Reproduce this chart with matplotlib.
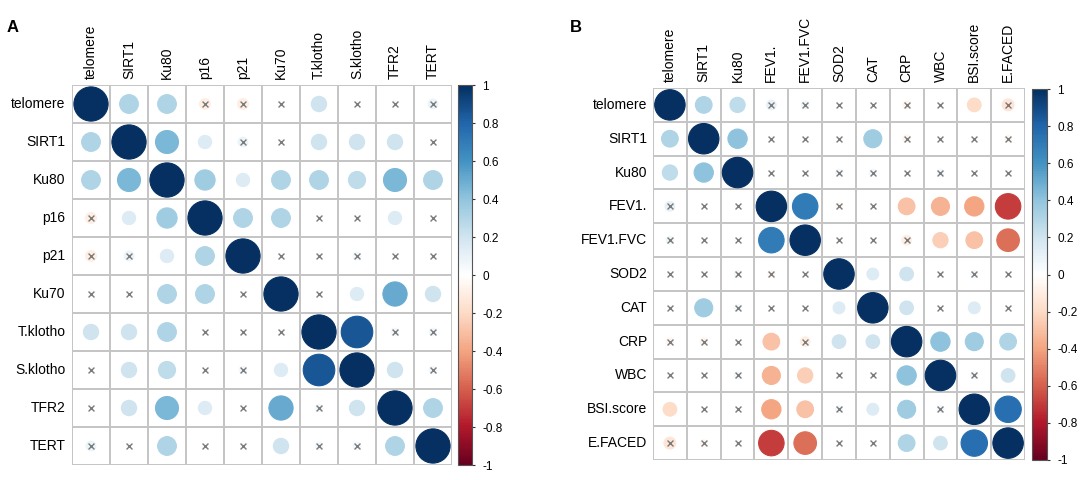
import numpy as np
import matplotlib
matplotlib.use("Agg")
import matplotlib.pyplot as plt
from matplotlib.patches import Circle
from matplotlib.colors import LinearSegmentedColormap, Normalize
from matplotlib.colorbar import ColorbarBase

plt.rcParams['font.family'] = ['Liberation Sans', 'DejaVu Sans']

# ---- panel A data ----
labels_A = ["telomere", "SIRT1", "Ku80", "p16", "p21", "Ku70",
            "T.klotho", "S.klotho", "TFR2", "TERT"]
corr_A = [
    [1.00, 0.30, 0.30, -0.10, -0.10, 0.02, 0.20, 0.02, 0.02, 0.08],
    [0.30, 1.00, 0.45, 0.15, 0.08, 0.02, 0.20, 0.20, 0.20, 0.02],
    [0.30, 0.45, 1.00, 0.35, 0.15, 0.30, 0.30, 0.25, 0.45, 0.30],
    [-0.10, 0.15, 0.35, 1.00, 0.30, 0.30, 0.02, 0.02, 0.15, 0.02],
    [-0.10, 0.08, 0.15, 0.30, 1.00, 0.02, 0.02, 0.05, 0.02, 0.02],
    [0.02, 0.02, 0.30, 0.30, 0.02, 1.00, 0.02, 0.15, 0.50, 0.20],
    [0.20, 0.20, 0.30, 0.02, 0.02, 0.02, 1.00, 0.85, 0.05, 0.05],
    [0.02, 0.20, 0.25, 0.02, 0.05, 0.15, 0.85, 1.00, 0.20, 0.05],
    [0.02, 0.20, 0.45, 0.15, 0.02, 0.50, 0.05, 0.20, 1.00, 0.30],
    [0.08, 0.02, 0.30, 0.02, 0.02, 0.20, 0.05, 0.05, 0.30, 1.00],
]
insig_A = [
    [0, 0, 0, 1, 1, 1, 0, 1, 1, 1],
    [0, 0, 0, 0, 1, 1, 0, 0, 0, 1],
    [0, 0, 0, 0, 0, 0, 0, 0, 0, 0],
    [1, 0, 0, 0, 0, 0, 1, 1, 0, 1],
    [1, 1, 0, 0, 0, 1, 1, 1, 1, 1],
    [1, 1, 0, 0, 1, 0, 1, 0, 0, 0],
    [0, 0, 0, 1, 1, 1, 0, 0, 1, 1],
    [1, 0, 0, 1, 1, 0, 0, 0, 0, 1],
    [1, 0, 0, 0, 1, 0, 1, 0, 0, 0],
    [1, 1, 0, 1, 1, 0, 1, 1, 0, 0],
]

# ---- panel B data ----
labels_B = ["telomere", "SIRT1", "Ku80", "FEV1.", "FEV1.FVC", "SOD2",
            "CAT", "CRP", "WBC", "BSI.score", "E.FACED"]
corr_B = [
    [1.00, 0.30, 0.25, 0.10, 0.06, 0.02, 0.02, -0.06, 0.02, -0.20, -0.15],
    [0.30, 1.00, 0.40, 0.02, 0.02, 0.02, 0.35, -0.06, 0.02, 0.02, -0.05],
    [0.25, 0.40, 1.00, 0.02, 0.02, 0.05, 0.05, 0.02, 0.05, 0.02, 0.02],
    [0.10, 0.02, 0.02, 1.00, 0.70, -0.05, 0.02, -0.30, -0.35, -0.40, -0.70],
    [0.06, 0.02, 0.02, 0.70, 1.00, 0.02, 0.02, -0.10, -0.25, -0.30, -0.55],
    [0.02, 0.02, 0.05, -0.05, 0.02, 1.00, 0.15, 0.20, 0.02, 0.05, 0.02],
    [0.02, 0.35, 0.05, 0.02, 0.02, 0.15, 1.00, 0.20, 0.02, 0.15, 0.02],
    [-0.06, -0.06, 0.02, -0.30, -0.10, 0.20, 0.20, 1.00, 0.40, 0.35, 0.30],
    [0.02, 0.02, 0.05, -0.35, -0.25, 0.02, 0.02, 0.40, 1.00, 0.05, 0.20],
    [-0.20, 0.02, 0.02, -0.40, -0.30, 0.05, 0.15, 0.35, 0.05, 1.00, 0.75],
    [-0.15, -0.05, 0.02, -0.70, -0.55, 0.02, 0.02, 0.30, 0.20, 0.75, 1.00],
]
insig_B = [
    [0, 0, 0, 1, 1, 1, 1, 1, 1, 0, 1],
    [0, 0, 0, 1, 1, 1, 0, 1, 1, 1, 1],
    [0, 0, 0, 1, 1, 1, 1, 1, 1, 1, 1],
    [1, 1, 1, 0, 0, 1, 1, 0, 0, 0, 0],
    [1, 1, 1, 0, 0, 1, 1, 1, 0, 0, 0],
    [1, 1, 1, 1, 1, 0, 0, 0, 1, 1, 1],
    [1, 0, 1, 1, 1, 0, 0, 0, 1, 0, 1],
    [1, 1, 1, 0, 1, 0, 0, 0, 0, 0, 0],
    [1, 1, 1, 0, 0, 1, 1, 0, 0, 1, 0],
    [0, 1, 1, 0, 0, 1, 0, 0, 1, 0, 0],
    [1, 1, 1, 0, 0, 1, 1, 0, 0, 0, 0],
]

cbar_ticks = [1, 0.8, 0.6, 0.4, 0.2, 0, -0.2, -0.4, -0.6, -0.8, -1]

# corrplot default palette
cmap = LinearSegmentedColormap.from_list("corr", [
    "#67001F", "#B2182B", "#D6604D", "#F4A582", "#FDDBC7", "#FFFFFF",
    "#D1E5F0", "#92C5DE", "#4393C3", "#2166AC", "#053061"], N=200)
norm = Normalize(-1, 1)

W, H = 1084, 480
fig = plt.figure(figsize=(W / 100, H / 100), dpi=100, facecolor="white")


def px_axes(x0, y0, w, h):
    # pixel box (top-left origin) -> figure axes
    return fig.add_axes([x0 / W, (H - y0 - h) / H, w / W, h / H])


def corr_panel(box, cbox, labels, corr, insig, letter, letter_xy, lab_gap):
    corr = np.array(corr)
    insig = np.array(insig)
    n = len(labels)
    ax = px_axes(*box)
    ax.set_xlim(0, n)
    ax.set_ylim(n, 0)
    ax.axis("off")
    for k in range(n + 1):
        ax.plot([0, n], [k, k], color="#c4c4c4", lw=1.4, zorder=1,
                solid_capstyle="butt")
        ax.plot([k, k], [0, n], color="#c4c4c4", lw=1.4, zorder=1,
                solid_capstyle="butt")
    for i in range(n):
        for j in range(n):
            r = corr[i, j]
            c = cmap(norm(r))
            rad = np.sqrt(abs(r)) * 0.45
            ax.add_patch(Circle((j + 0.5, i + 0.5), rad, facecolor=c,
                                edgecolor=c, lw=0.8, zorder=2))
    yy, xx = np.nonzero(insig)
    ax.scatter(xx + 0.5, yy + 0.5, marker="x", s=18, color="#7a7a7a",
               linewidths=1.0, zorder=3)
    for k, lab in enumerate(labels):
        ax.text(-lab_gap, k + 0.5, lab, ha="right", va="center",
                fontsize=10, color="black", clip_on=False)
        ax.text(k + 0.5, -lab_gap, lab, ha="center", va="bottom",
                rotation=90, fontsize=10, color="black", clip_on=False)

    cax = px_axes(*cbox)
    cb = ColorbarBase(cax, cmap=cmap, norm=norm, orientation="vertical")
    cb.set_ticks(cbar_ticks)
    cb.set_ticklabels([("%g" % t) for t in cbar_ticks])
    cb.outline.set_edgecolor("#555555")
    cb.outline.set_linewidth(0.8)
    cax.tick_params(axis="y", length=2.5, width=0.8, labelsize=8.5,
                    pad=5, color="#333333")

    fig.text(letter_xy[0] / W, 1 - letter_xy[1] / H, letter, fontsize=12,
             fontweight="bold", ha="left", va="center")


corr_panel((72, 85, 380, 380), (458, 85, 14, 380), labels_A, corr_A,
           insig_A, "A", (7, 27), 0.17)
corr_panel((653, 88, 372, 372), (1032, 89, 15, 371), labels_B, corr_B,
           insig_B, "B", (570, 27), 0.17)

fig.savefig("out.png", dpi=100, facecolor="white")
